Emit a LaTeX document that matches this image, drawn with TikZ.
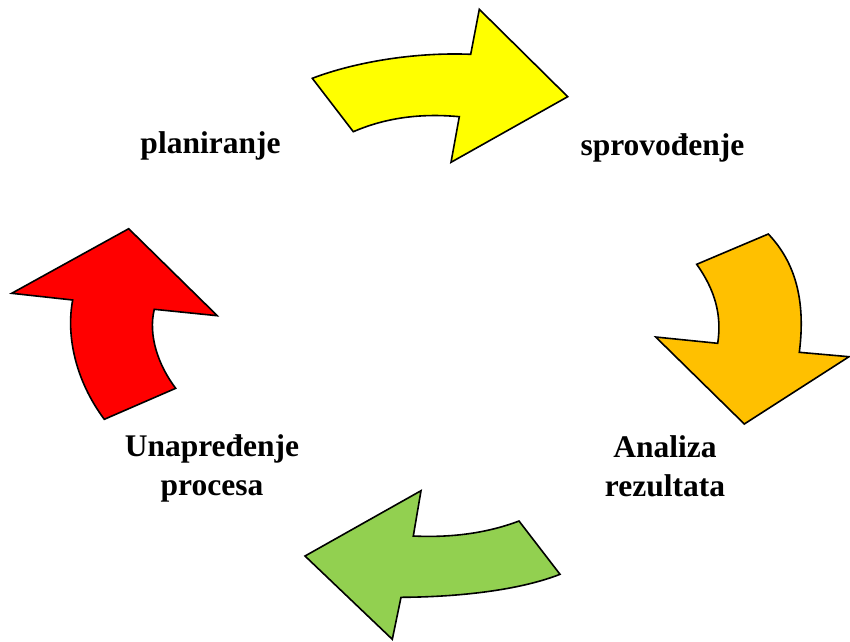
\documentclass[tikz,border=0pt]{standalone}
\usepackage{fontspec}
\setmainfont{Liberation Serif}
\definecolor{cyellow}{HTML}{FFFF00}
\definecolor{corange}{HTML}{FFC000}
\definecolor{cgreen}{HTML}{92D050}
\definecolor{cred}{HTML}{FF0000}
\begin{document}
\begin{tikzpicture}[x=1pt,y=-1pt,
  arrowshape/.style={draw=black,line width=1.6pt,line join=miter},
  lbl/.style={inner sep=0pt,anchor=base,align=center,font=\bfseries\fontsize{31.5}{39}\selectfont}]
\useasboundingbox (0,0) rectangle (850,641);
% yellow
\path[arrowshape,fill=cyellow] (312.3,78.3) -- (353.3,131.7) .. controls (385,118) and (420,113) .. (459.3,116.7)
  -- (451,162.3) -- (567.7,96.7) -- (479.3,9.3) -- (470.7,54.3) .. controls (415,52) and (355,62) .. (312.3,78.3) -- cycle;
% orange
\path[arrowshape,fill=corange] (696.7,264.3) -- (768.3,234) .. controls (795,262) and (806,300) .. (799.3,352.3)
  -- (849,356.7) -- (744.3,424) -- (655.7,337) -- (717.7,343.3) .. controls (722,315) and (715,290) .. (696.7,264.3) -- cycle;
% green
\path[arrowshape,fill=cgreen] (519,521) -- (560,574.3) .. controls (520,590) and (460,597) .. (401,597.3)
  -- (392.3,639.3) -- (305,556) -- (421,490.7) -- (413.3,536) .. controls (455,538) and (490,532) .. (519,521) -- cycle;
% red
\path[arrowshape,fill=cred] (104.3,419.3) -- (175.7,388.3) .. controls (158,365) and (148,335) .. (154.3,309.3)
  -- (217.3,315.7) -- (128.7,228.7) -- (11.7,293.3) -- (72.7,300) .. controls (66,335) and (75,380) .. (104.3,419.3) -- cycle;
\node[lbl] (plan) at (210.5,153) {planiranje};
\node[lbl] (sprov) at (662.5,155) {sprovođenje};
\node[lbl] (anal) at (665,496) {Analiza\\rezultata};
\node[lbl] (unap) at (212,495) {Unapređenje\\procesa};
\end{tikzpicture}
\end{document}
